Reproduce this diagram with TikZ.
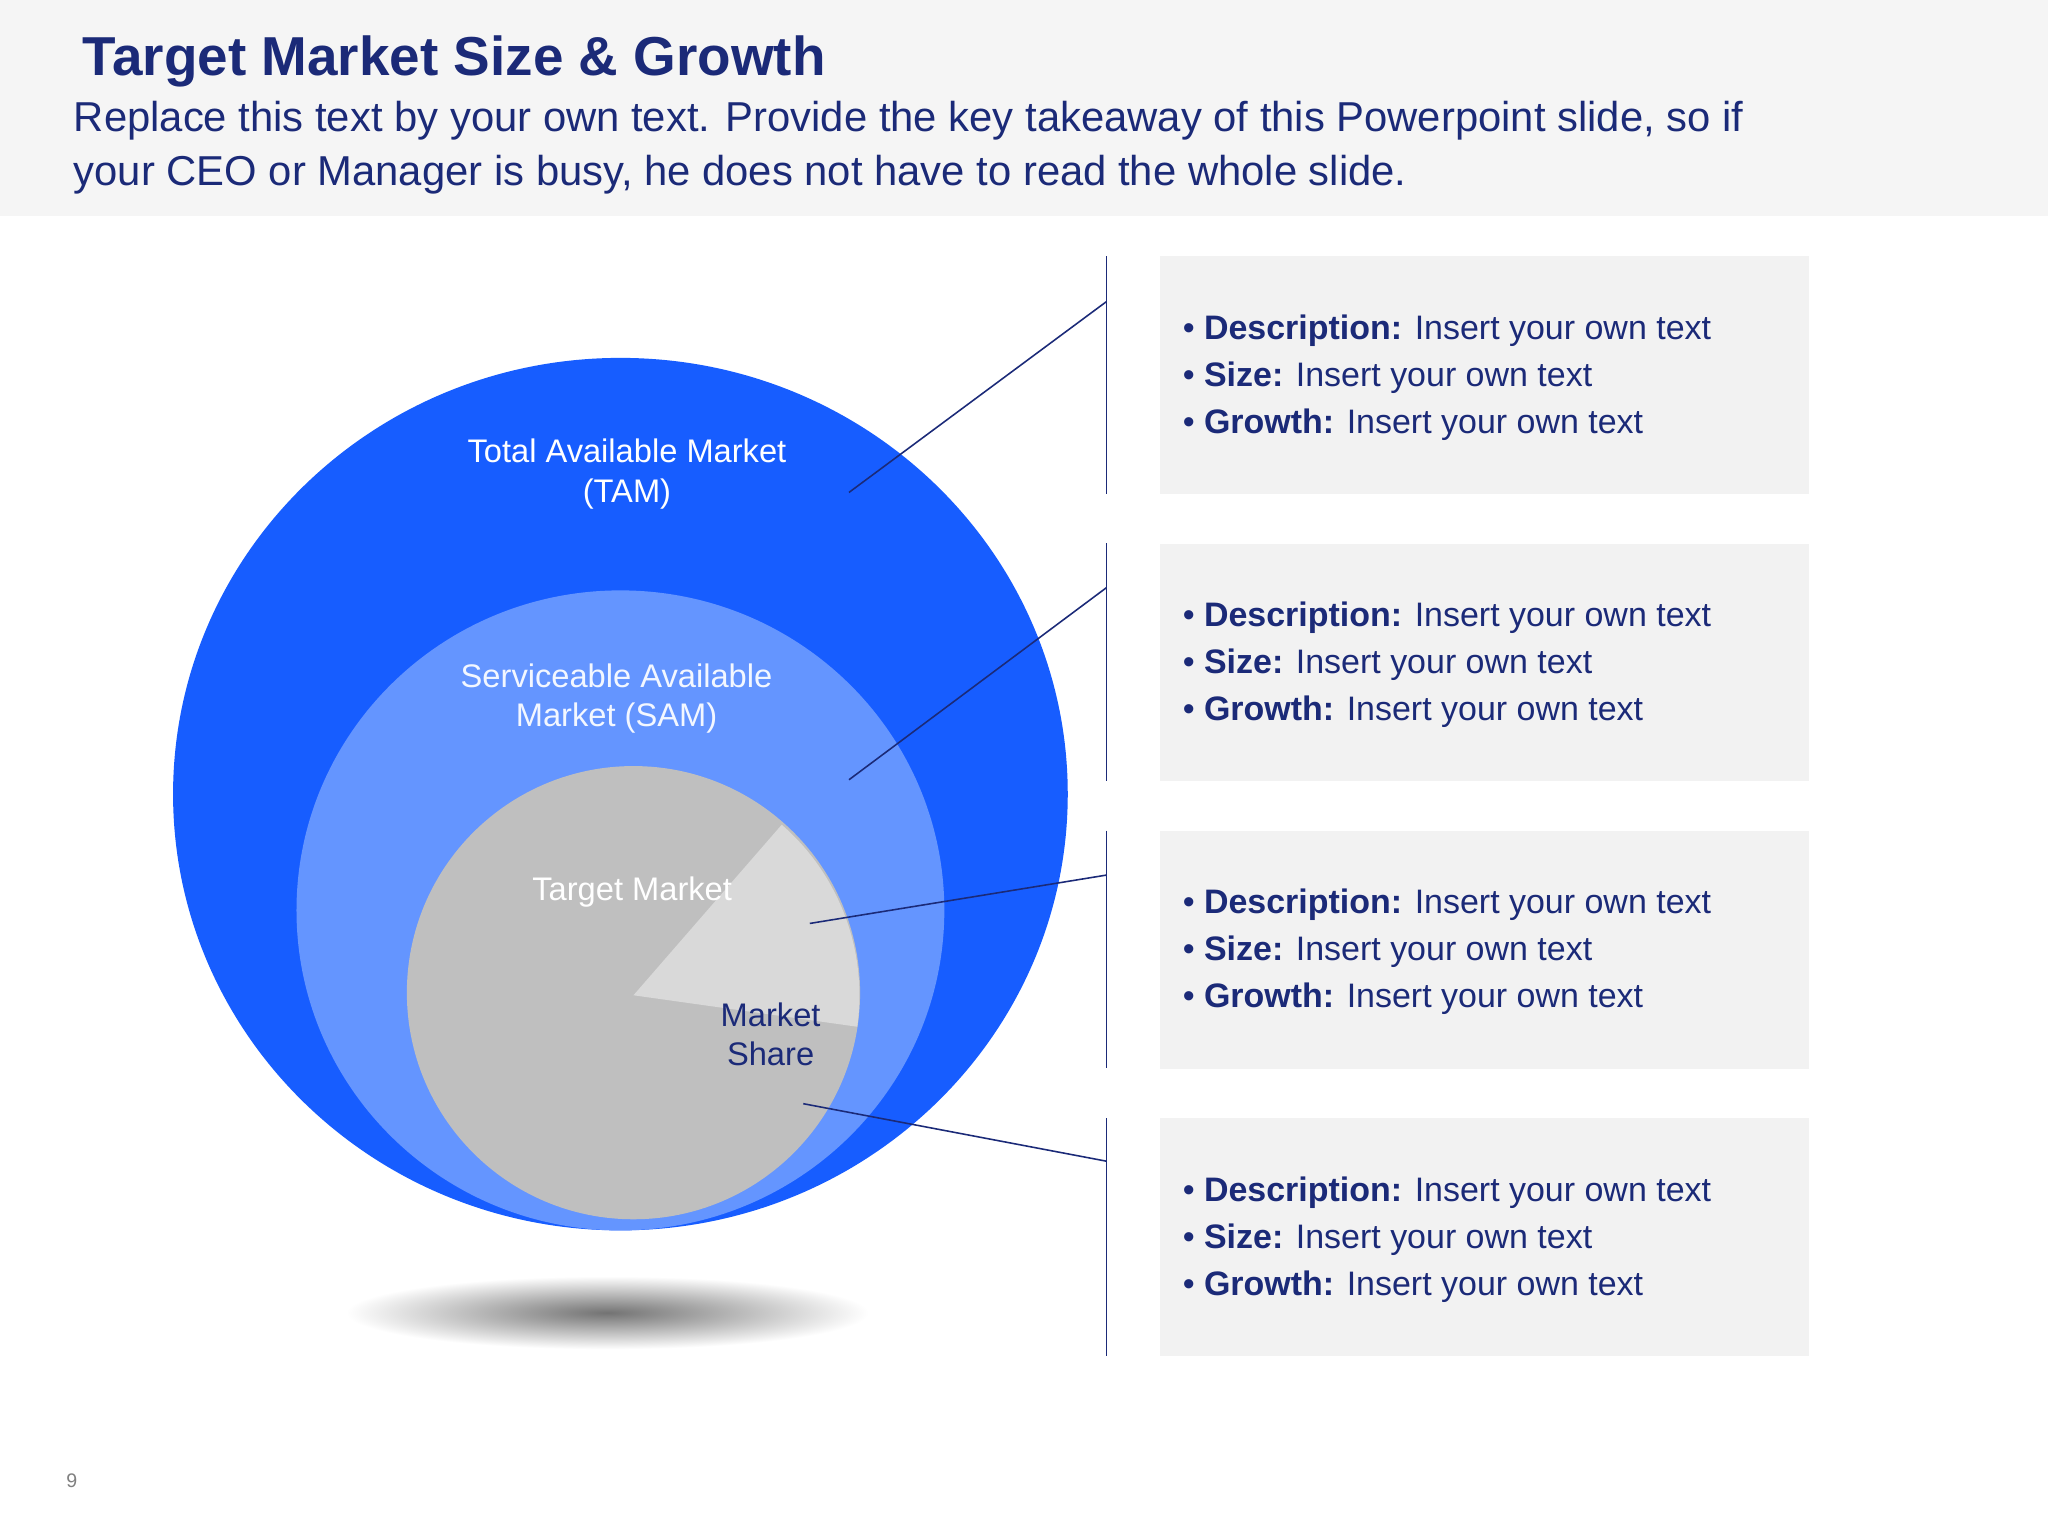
\documentclass[tikz,border=0pt]{standalone}
\usepackage{fontspec}
\setmainfont{Liberation Sans}
\usetikzlibrary{shapes.geometric}
\definecolor{navy}{HTML}{1B2A78}
\definecolor{tam}{HTML}{175DFF}
\definecolor{sam}{HTML}{6495FF}
\definecolor{tgt}{HTML}{BFBFBF}
\definecolor{shr}{HTML}{D9D9D9}
\definecolor{boxg}{HTML}{F2F2F2}
\definecolor{hdr}{HTML}{F5F5F5}
\begin{document}
\begin{tikzpicture}[x=1pt,y=-1pt,
  lead/.style={navy,line width=1.2pt},
  infobox/.style={fill=boxg,draw=none,minimum width=497pt,minimum height=182pt,anchor=north west},
  bul/.style={anchor=west,text=navy,font=\fontsize{26}{36}\selectfont,align=left},
  clab/.style={white,font=\fontsize{25}{30}\selectfont,align=center}]
\useasboundingbox (0,0) rectangle (1568,1176);
\fill[white] (0,0) rectangle (1568,1176);
\fill[hdr] (0,0) rectangle (1568,165);
\node[anchor=west,text=navy,font=\bfseries\fontsize{42}{48}\selectfont] (title) at (60,47) {Target Market Size \& Growth};
\node[anchor=north west,text=navy,font=\fontsize{32}{41}\selectfont,align=left] (sub) at (53,74) {Replace this text by your own text. Provide the key takeaway of this Powerpoint slide, so if\\your CEO or Manager is busy, he does not have to read the whole slide.};
% shadow
\shade[inner color=black!55,outer color=white] (465,1005) ellipse (200 and 28);
\node[ellipse,fill=tam,minimum width=685pt,minimum height=668pt,inner sep=0] (tamc) at (475,608) {};
\node[ellipse,fill=sam,minimum width=496pt,minimum height=490pt,inner sep=0] (samc) at (475,697) {};
\node[circle,fill=tgt,minimum size=347pt,inner sep=0] (tgtc) at (485,760) {};
\fill[shr] (485,762) -- ++(8:173) arc[start angle=8,end angle=-49,radius=173] -- cycle;
\node[clab] (tl) at (480,363) {Total Available Market\\(TAM)};
\node[clab,text=white!92!sam] (sl) at (472,535) {Serviceable Available\\Market (SAM)};
\node[clab] (tml) at (484,683) {Target Market};
\node[clab,text=navy] (ms) at (590,792) {Market\\Share};
\node[font=\fontsize{15}{18}\selectfont,text=gray] (pg) at (55,1134) {9};
\foreach \i/\y in {1/196,2/416,3/636,4/856}{
  \node[infobox] (b\i) at (888,\y) {};
  \coordinate (vt\i) at (847,\y);
  \coordinate (vb\i) at (847,\y+182);
  \draw[lead] (vt\i) -- (vb\i);
  \node[bul] (t\i) at (902,\y+93) {\textbullet\ \textbf{Description:} Insert your own text\\\textbullet\ \textbf{Size:} Insert your own text\\\textbullet\ \textbf{Growth:} Insert your own text};
}
\coordinate (a1) at (650,377); \coordinate (e1) at (847,231);
\coordinate (a2) at (650,597); \coordinate (e2) at (847,450);
\coordinate (a3) at (620,707); \coordinate (e3) at (847,670);
\coordinate (a4) at (615,845); \coordinate (e4) at (847,889);
\foreach \i in {1,...,4}{\draw[lead] (a\i) -- (e\i);}
\end{tikzpicture}
\end{document}
